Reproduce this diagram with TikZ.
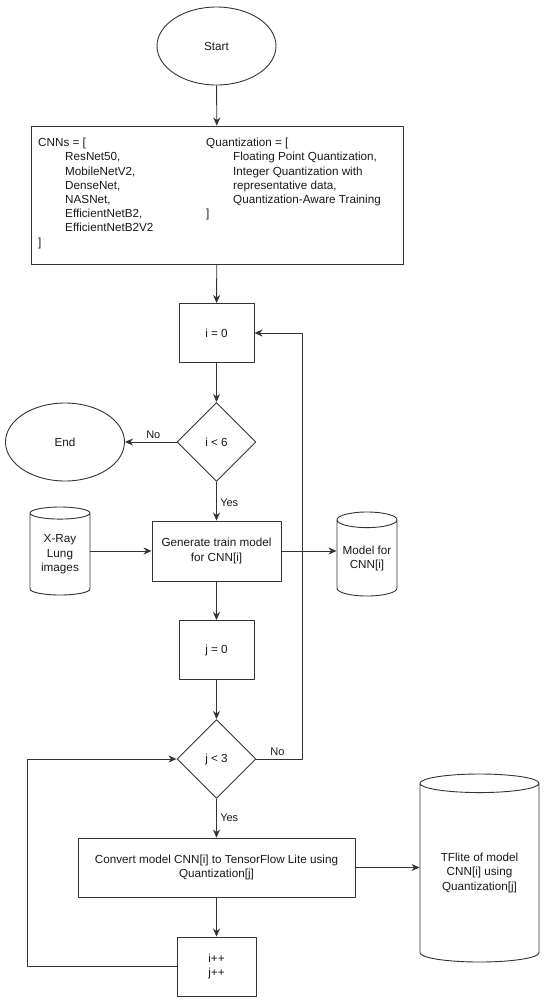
\documentclass[tikz,border=0pt]{standalone}
\usepackage{fontspec}
\setmainfont{Liberation Sans}
\usetikzlibrary{shapes.geometric,arrows.meta}

\begin{document}
\begin{tikzpicture}[x=1pt, y=-1pt, line join=round,
    every node/.style={font=\fontsize{11.7}{14.2}\selectfont, text=black!90},
    proc/.style={draw=black!80, line width=0.9pt, rectangle, inner sep=0pt, align=center},
    term/.style={draw=black!80, line width=0.9pt, ellipse, minimum width=119pt, minimum height=78pt, inner sep=0pt},
    cond/.style={draw=black!80, line width=0.9pt, diamond, aspect=1, minimum size=79pt, inner sep=0pt},
    store/.style={draw=black!80, line width=0.9pt, cylinder, shape border rotate=90, inner sep=0pt, align=center},
    flow/.style={draw=black!80, line width=0.9pt, -{Stealth[length=8pt,width=7pt,inset=2.5pt]}},
    lbl/.style={font=\fontsize{11}{13}\selectfont}]
    \useasboundingbox (0,0) rectangle (550,1005);

    % main column
    \node[term] (start) at (216.5,46) {Start};
    \node[proc, minimum width=372pt, minimum height=138pt] (params) at (217,195) {};
    \node[anchor=north west, inner sep=0pt, align=left] (cnns) at (38,138)
        {CNNs = [\\\hspace*{27pt}ResNet50,\\\hspace*{27pt}MobileNetV2,\\\hspace*{27pt}DenseNet,\\\hspace*{27pt}NASNet,\\\hspace*{27pt}EfficientNetB2,\\\hspace*{27pt}EfficientNetB2V2\\]};
    \node[anchor=north west, inner sep=0pt, align=left] (quants) at (206,138)
        {Quantization = [\\\hspace*{27pt}Floating Point Quantization,\\\hspace*{27pt}Integer Quantization with\\\hspace*{27pt}representative data,\\\hspace*{27pt}Quantization-Aware Training\\]};
    \node[proc, minimum width=75pt, minimum height=59pt] (i0) at (216.5,333) {i = 0};
    \node[cond] (ilt) at (216.5,442) {i {\textless} 6};
    \node[term] (end) at (65,442) {End};
    \node[proc, minimum width=129pt, minimum height=60pt] (gen) at (216.5,551) {Generate train model\\for CNN[i]};
    \node[store, minimum width=60pt, minimum height=88pt, aspect=0.32, anchor=shape center] (xray) at (60,551) {X-Ray\\Lung\\images};
    \node[store, minimum width=60pt, minimum height=84pt, aspect=0.32, anchor=shape center] (model) at (367,554) {Model for\\CNN[i]};
    \node[proc, minimum width=75pt, minimum height=59pt] (j0) at (216.5,650) {j = 0};
    \node[cond] (jlt) at (216.5,759) {j {\textless} 3};
    \node[proc, minimum width=277pt, minimum height=59pt] (conv) at (216.5,867.5) {Convert model CNN[i] to TensorFlow Lite using\\Quantization[j]};
    \node[store, minimum width=119pt, minimum height=188pt, aspect=0.24, anchor=shape center] (tfl) at (479.5,868) {TFlite of model\\CNN[i] using\\Quantization[j]};
    \node[proc, minimum width=79pt, minimum height=59pt] (inc) at (216.5,966.5) {i++\\j++};

    \coordinate (rloop) at (302,333);
    \coordinate (lloop) at (27,759);

    % connectors
    \draw[flow] (start) -- (params);
    \draw[flow] (params) -- (i0);
    \draw[flow] (i0) -- (ilt);
    \draw[flow] (ilt) -- node[lbl, above, pos=0.45] {No} (end);
    \draw[flow] (ilt) -- node[lbl, right, pos=0.55] {Yes} (gen);
    \draw[flow] (xray.east |- gen.west) -- (gen.west);
    \draw[flow] (gen.east) -- (gen.east -| model.west);
    \draw[flow] (gen) -- (j0);
    \draw[flow] (j0) -- (jlt);
    \draw[flow] (jlt.east) -| node[lbl, above, pos=0.23] {No} (rloop) -- (i0.east);
    \draw[flow] (jlt) -- node[lbl, right, pos=0.5] {Yes} (conv);
    \draw[flow] (conv.east) -- (conv.east -| tfl.west);
    \draw[flow] (conv) -- (inc);
    \draw[flow] (inc.west) -| (lloop) -- (jlt.west);
\end{tikzpicture}
\end{document}
